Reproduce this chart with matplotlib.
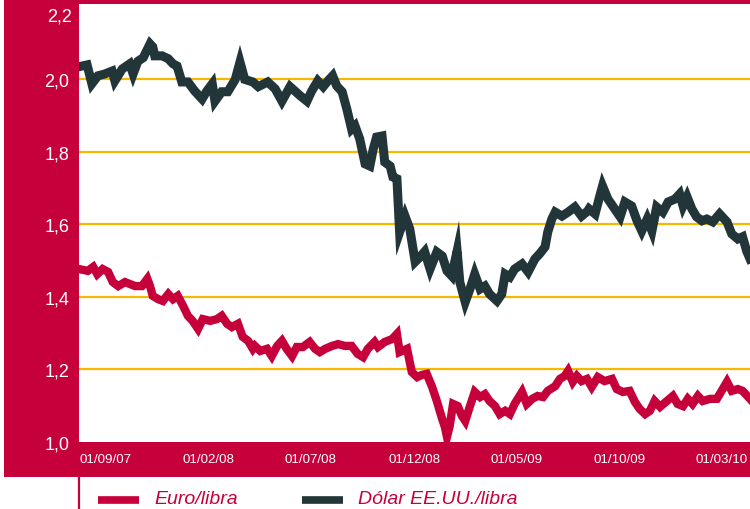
import numpy as np
import matplotlib
matplotlib.use("Agg")
import matplotlib.pyplot as plt
from matplotlib.patches import Rectangle
from matplotlib.lines import Line2D

plt.rcParams['font.family'] = ['Liberation Sans', 'DejaVu Sans']

ROJO = '#C6003A'
VERDE = '#22363A'
ORO = '#F7B900'

inicio = np.datetime64('2007-09-01')

# Dólar EE.UU./libra (días desde 01/09/07, cotización)
dias_usd = [0, 12, 19, 28, 38, 49, 53, 64, 75, 80, 87, 95, 105, 109, 112, 123, 132, 139, 145,
            152, 161, 171, 182, 189, 197, 201, 211, 220, 231, 238, 245, 257, 265, 279, 290,
            300, 312, 327, 337, 344, 353, 361, 368, 375, 381, 389, 396, 403, 408, 415, 423,
            430, 435, 440, 448, 452, 460, 464, 470, 474, 482, 489, 497, 504, 511, 519, 529,
            537, 544, 551, 559, 563, 571, 578, 585, 593, 600, 607, 618, 625, 630, 637, 644,
            655, 664, 674, 681, 689, 693, 699, 704, 714, 723, 733, 743, 752, 754, 763, 770,
            774, 782, 789, 800, 807, 817, 825, 832, 840, 847, 854, 863, 871, 881, 888, 893,
            899, 906, 913, 921, 928, 937, 947, 958, 965, 974, 981, 987, 992]
usd = [2.035, 2.040, 1.988, 2.010, 2.015, 2.023, 1.996, 2.029, 2.043, 2.015, 2.050, 2.060,
       2.098, 2.090, 2.065, 2.065, 2.057, 2.043, 2.037, 1.993, 1.993, 1.968, 1.946, 1.968,
       1.988, 1.940, 1.966, 1.966, 2.000, 2.048, 2.000, 1.993, 1.980, 1.993, 1.974, 1.940,
       1.980, 1.955, 1.940, 1.968, 1.996, 1.980, 1.996, 2.010, 1.982, 1.966, 1.918, 1.863,
       1.872, 1.836, 1.767, 1.761, 1.808, 1.841, 1.844, 1.772, 1.761, 1.731, 1.726, 1.579,
       1.623, 1.588, 1.497, 1.510, 1.525, 1.477, 1.524, 1.513, 1.472, 1.458, 1.527, 1.441,
       1.386, 1.422, 1.463, 1.422, 1.430, 1.408, 1.389, 1.408, 1.463, 1.455, 1.477, 1.491,
       1.469, 1.505, 1.519, 1.538, 1.579, 1.615, 1.634, 1.623, 1.634, 1.648, 1.623, 1.637,
       1.643, 1.629, 1.679, 1.706, 1.670, 1.651, 1.621, 1.662, 1.651, 1.610, 1.582, 1.615,
       1.582, 1.648, 1.634, 1.662, 1.670, 1.684, 1.651, 1.676, 1.643, 1.621, 1.610, 1.615,
       1.607, 1.629, 1.607, 1.574, 1.560, 1.566, 1.527, 1.505]

# Euro/libra
dias_eur = [0, 13, 21, 27, 35, 43, 50, 58, 68, 75, 83, 93, 101, 105, 109, 117, 124, 132, 139,
            146, 154, 161, 168, 176, 183, 194, 204, 211, 219, 226, 235, 242, 250, 257, 260,
            268, 278, 285, 293, 300, 307, 315, 322, 331, 341, 349, 356, 364, 374, 383, 393,
            403, 412, 420, 427, 437, 442, 452, 463, 470, 474, 485, 492, 500, 507, 514, 522,
            529, 537, 541, 544, 548, 553, 560, 566, 571, 578, 585, 593, 600, 607, 615, 622,
            630, 637, 644, 655, 662, 670, 678, 686, 693, 704, 711, 718, 723, 730, 736, 743,
            751, 758, 767, 777, 788, 795, 804, 814, 822, 829, 837, 844, 851, 859, 869, 878,
            885, 893, 900, 907, 915, 922, 933, 943, 950, 958, 965, 974, 981, 992]
eur = [1.477, 1.472, 1.483, 1.463, 1.477, 1.469, 1.441, 1.430, 1.441, 1.436, 1.430, 1.430,
       1.450, 1.430, 1.403, 1.394, 1.389, 1.408, 1.394, 1.403, 1.375, 1.348, 1.334, 1.312,
       1.339, 1.334, 1.339, 1.348, 1.326, 1.317, 1.326, 1.290, 1.279, 1.257, 1.265, 1.251,
       1.257, 1.237, 1.265, 1.279, 1.257, 1.237, 1.262, 1.262, 1.276, 1.257, 1.248, 1.257,
       1.265, 1.270, 1.265, 1.265, 1.243, 1.234, 1.257, 1.276, 1.262, 1.276, 1.284, 1.298,
       1.248, 1.257, 1.193, 1.179, 1.185, 1.188, 1.152, 1.113, 1.063, 1.041, 1.014, 1.044,
       1.105, 1.099, 1.072, 1.058, 1.099, 1.138, 1.124, 1.132, 1.113, 1.099, 1.077, 1.086,
       1.077, 1.105, 1.138, 1.105, 1.119, 1.127, 1.124, 1.141, 1.154, 1.174, 1.182, 1.196,
       1.166, 1.182, 1.168, 1.174, 1.152, 1.179, 1.168, 1.174, 1.146, 1.138, 1.141, 1.110,
       1.091, 1.077, 1.086, 1.113, 1.097, 1.113, 1.127, 1.105, 1.099, 1.119, 1.105, 1.127,
       1.113, 1.119, 1.119, 1.141, 1.166, 1.141, 1.146, 1.141, 1.119]

fechas_ticks = ['2007-09-01', '2008-02-01', '2008-07-01', '2008-12-01',
                '2009-05-01', '2009-10-01', '2010-03-01']
etiquetas_x = ['01/09/07', '01/02/08', '01/07/08', '01/12/08', '01/05/09', '01/10/09', '01/03/10']
valores_y = [1.0, 1.2, 1.4, 1.6, 1.8, 2.0]
etiquetas_y = ['1,0', '1,2', '1,4', '1,6', '1,8', '2,0']

W, H = 750, 510
fig = plt.figure(figsize=(W / 100, H / 100), dpi=100)

# marco rojo: columna izquierda, franja superior y banda de fechas
marco = dict(transform=fig.transFigure, color=ROJO, lw=0, zorder=0)
fig.add_artist(Rectangle((4 / W, 1 - 478 / H), 75 / W, 478 / H, **marco))
fig.add_artist(Rectangle((4 / W, 1 - 478 / H), 746 / W, 35 / H, **marco))
fig.add_artist(Rectangle((79 / W, 1 - 5 / H), 671 / W, 5 / H, **marco))
fig.add_artist(Line2D([79 / W, 79 / W], [0, 1 - 478 / H], transform=fig.transFigure,
                      color=ROJO, lw=1.6))

ax = fig.add_axes([79 / W, 1 - 443 / H, 671 / W, 438 / H])
ax.set_zorder(2)
ax.set_facecolor('white')
for s in ax.spines.values():
    s.set_visible(False)

for v in valores_y[1:]:
    ax.axhline(v, color=ORO, lw=1.6, zorder=1)

x_usd = inicio + np.array(dias_usd).astype('timedelta64[D]')
x_eur = inicio + np.array(dias_eur).astype('timedelta64[D]')
ax.plot(x_usd, usd, color=VERDE, lw=6.5, solid_joinstyle='miter', zorder=3)
ax.plot(x_eur, eur, color=ROJO, lw=6, solid_joinstyle='miter', zorder=3)

ax.set_xlim(inicio, inicio + np.timedelta64(992, 'D'))
ax.set_ylim(1.0, 2.208)

ax.set_xticks(np.array(fechas_ticks, dtype='datetime64[D]'))
ax.set_xticklabels(etiquetas_x, ha='left', color='white', fontsize=9.6)
ax.set_yticks(valores_y)
ax.set_yticklabels(etiquetas_y, color='white', fontsize=13)
ax.tick_params(axis='x', length=0, pad=8)
ax.tick_params(axis='y', length=0, pad=7)

# la etiqueta 2,2 queda algo por debajo de su valor
ax.annotate('2,2', xy=(0, 2.2), xycoords=('axes fraction', 'data'),
            xytext=(-5, -6.5), textcoords='offset points', ha='right', va='center',
            color='white', fontsize=13, annotation_clip=False)

# leyenda
fig.add_artist(Line2D([98 / W, 139 / W], [1 - 501 / H] * 2, transform=fig.transFigure,
                      color=ROJO, lw=5.5, solid_capstyle='butt'))
fig.text(154 / W, 1 - 500 / H, 'Euro/libra', color=ROJO, fontsize=14, style='italic',
         va='center', ha='left')
fig.add_artist(Line2D([302 / W, 343 / W], [1 - 501 / H] * 2, transform=fig.transFigure,
                      color=VERDE, lw=5.5, solid_capstyle='butt'))
fig.text(358 / W, 1 - 500 / H, 'Dólar EE.UU./libra', color=ROJO, fontsize=14, style='italic',
         va='center', ha='left')

fig.savefig('out.png', dpi=100, facecolor='white')
